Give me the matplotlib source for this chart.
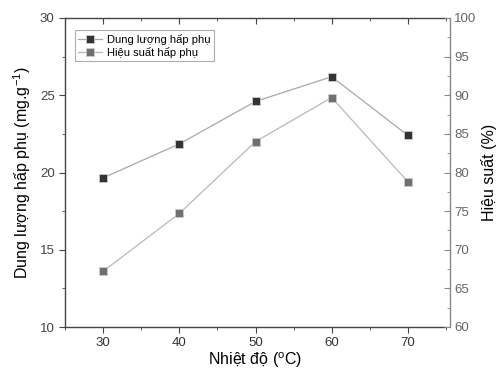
import matplotlib
matplotlib.use("Agg")
import matplotlib.pyplot as plt
from matplotlib.ticker import MultipleLocator

plt.rcParams['font.family'] = ['Liberation Sans', 'DejaVu Sans']
plt.rcParams['mathtext.default'] = 'regular'

temp = [30, 40, 50, 60, 70]
dung_luong = [19.65, 21.85, 24.6, 26.2, 22.4]
hieu_suat = [67.2, 74.7, 84.0, 89.7, 78.8]

fig = plt.figure(figsize=(5.04, 3.72), dpi=100)
ax = fig.add_axes([65 / 504, 45 / 372, 381 / 504, 309 / 372])

ax.plot(temp, dung_luong, color='#a8a8a8', lw=0.9, marker='s', ms=6,
        mfc='#333333', mec='#cccccc', mew=0.6, label='Dung lượng hấp phụ', zorder=3)

ax2 = ax.twinx()
ax2.plot(temp, hieu_suat, color='#b8b8b8', lw=0.9, marker='s', ms=6,
         mfc='#707070', mec='#cccccc', mew=0.6, label='Hiệu suất hấp phụ', zorder=3)

ax.set_xlim(25, 75)
ax.set_ylim(10, 30)
ax2.set_ylim(60, 100)

ax.xaxis.set_major_locator(MultipleLocator(10))
ax.xaxis.set_minor_locator(MultipleLocator(5))
ax.yaxis.set_major_locator(MultipleLocator(5))
ax.yaxis.set_minor_locator(MultipleLocator(2.5))
ax2.yaxis.set_major_locator(MultipleLocator(5))
ax2.yaxis.set_minor_locator(MultipleLocator(2.5))

for s in ['left', 'top', 'bottom']:
    ax.spines[s].set_color('#444444')
    ax.spines[s].set_linewidth(1.0)
ax.spines['right'].set_visible(False)
for s in ['left', 'top', 'bottom']:
    ax2.spines[s].set_visible(False)
ax2.spines['right'].set_position(('outward', 3))
ax2.spines['right'].set_color('#888888')
ax2.spines['right'].set_linewidth(1.0)

ax.tick_params(axis='x', which='both', direction='out', top=True, color='#444444',
               labelsize=9.5, labelcolor='#333333')
ax.tick_params(axis='x', which='major', length=4)
ax.tick_params(axis='x', which='minor', length=2.5)
ax.tick_params(axis='y', which='both', direction='out', right=False, color='#444444',
               labelsize=9.5, labelcolor='#444444')
ax.tick_params(axis='y', which='major', length=4)
ax.tick_params(axis='y', which='minor', length=2.5)
for t in ax.xaxis.get_major_ticks() + ax.xaxis.get_minor_ticks():
    t.tick2line.set_marker(3)  # top ticks pointing down (inward)

ax2.tick_params(axis='y', which='both', direction='in', color='#888888',
                labelsize=9.5, labelcolor='#666666', pad=3)
ax2.tick_params(axis='y', which='major', length=4)
ax2.tick_params(axis='y', which='minor', length=2.5)

ax.set_xlabel('Nhiệt độ ($^o$C)', fontsize=11.5, labelpad=1)
ax.set_ylabel('Dung lượng hấp phụ (mg.g$^{-1}$)', fontsize=11.5, labelpad=5)
ax2.set_ylabel('Hiệu suất (%)', fontsize=11.5, labelpad=3)

h1, l1 = ax.get_legend_handles_labels()
h2, l2 = ax2.get_legend_handles_labels()
leg = ax2.legend(h1 + h2, l1 + l2, loc='upper left', bbox_to_anchor=(0.025, 0.96),
                 fontsize=8, frameon=True, fancybox=False, edgecolor='#999999',
                 borderpad=0.3, labelspacing=0.2, handlelength=2.2, handletextpad=0.4,
                 borderaxespad=0)
leg.get_frame().set_linewidth(0.8)

fig.savefig('out.png', dpi=100)
